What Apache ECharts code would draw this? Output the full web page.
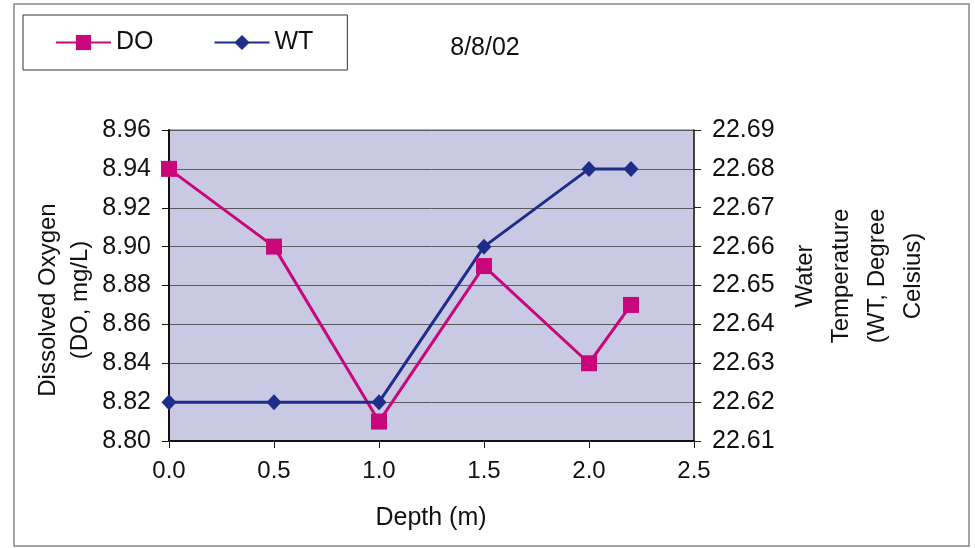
<!DOCTYPE html>
<html>
<head>
<meta charset="utf-8">
<script src="https://cdn.jsdelivr.net/npm/echarts@6/dist/echarts.min.js"></script>
<style>
  html, body { margin: 0; padding: 0; background: #ffffff; }
  #chart { width: 975px; height: 548px; }
</style>
</head>
<body>
<div id="chart"></div>
<script>
// Depth profile sampled on 8/8/02
const depth = [0, 0.5, 1.0, 1.5, 2.0, 2.2];
const doValues = [8.94, 8.90, 8.81, 8.89, 8.84, 8.87];
const wtValues = [22.62, 22.62, 22.62, 22.66, 22.68, 22.68];
const seriesNames = ['DO', 'WT'];
const chartTitle = '8/8/02';
const xName = 'Depth (m)';
const leftName = 'Dissolved Oxygen\n(DO, mg/L)';
const rightName = 'Water\nTemperature\n(WT, Degree\nCelsius)';

const FONT = 'Liberation Sans, Arial, sans-serif';
const DO_COLOR = '#c8077a';
const WT_COLOR = '#1f2d8a';

const chart = echarts.init(document.getElementById('chart'));

const pairs = (xs, ys) => xs.map((x, i) => [x, ys[i]]);

chart.setOption({
  animation: false,
  backgroundColor: '#ffffff',
  textStyle: { fontFamily: FONT },
  grid: {
    left: 169, right: 281, top: 130, bottom: 107,
    show: true,
    backgroundColor: '#c9c9e3',
    borderColor: '#666',
    borderWidth: 1
  },
  legend: {
    data: seriesNames,
    left: 23, top: 15,
    padding: [15, 34, 15, 32],
    itemGap: 60,
    itemWidth: 55,
    itemHeight: 19,
    borderColor: '#333',
    borderWidth: 1,
    backgroundColor: '#ffffff',
    textStyle: { fontSize: 25, color: '#111', fontFamily: FONT }
  },
  xAxis: {
    type: 'value',
    min: 0, max: 2.5, interval: 0.5,
    axisLine: { show: true, onZero: false, lineStyle: { color: '#111', width: 2 } },
    axisTick: { show: true, inside: false, length: 7, lineStyle: { color: '#111', width: 1 } },
    axisLabel: {
      margin: 18, fontSize: 24, color: '#111', fontFamily: FONT,
      formatter: v => v.toFixed(1)
    },
    splitLine: { show: false }
  },
  yAxis: [
    {
      type: 'value',
      min: 8.80, max: 8.96, interval: 0.02,
      axisLine: { show: true, lineStyle: { color: '#111', width: 2 } },
      axisTick: { show: true, inside: false, length: 7, lineStyle: { color: '#111', width: 1 } },
      axisLabel: {
        margin: 18, fontSize: 25, color: '#111', fontFamily: FONT,
        formatter: v => v.toFixed(2)
      },
      splitLine: { show: true, lineStyle: { color: '#5a5a5a', width: 1 } }
    },
    {
      type: 'value',
      position: 'right',
      min: 22.61, max: 22.69, interval: 0.01,
      axisLine: { show: true, lineStyle: { color: '#222', width: 1.5 } },
      axisTick: { show: true, inside: false, length: 7, lineStyle: { color: '#222', width: 1 } },
      axisLabel: {
        margin: 18, fontSize: 25, color: '#111', fontFamily: FONT,
        formatter: v => v.toFixed(2)
      },
      splitLine: { show: false }
    }
  ],
  series: [
    {
      name: seriesNames[0],
      type: 'line',
      yAxisIndex: 0,
      data: pairs(depth, doValues),
      symbol: 'rect',
      symbolSize: 16,
      color: DO_COLOR,
      lineStyle: { color: DO_COLOR, width: 3 },
      itemStyle: { color: DO_COLOR }
    },
    {
      name: seriesNames[1],
      type: 'line',
      yAxisIndex: 1,
      data: pairs(depth, wtValues),
      symbol: 'diamond',
      symbolSize: [15, 16],
      color: WT_COLOR,
      lineStyle: { color: WT_COLOR, width: 3 },
      itemStyle: { color: WT_COLOR }
    }
  ],
  graphic: [
    {
      type: 'rect',
      shape: { x: 14, y: 4, width: 955, height: 542 },
      style: { fill: 'none', stroke: '#888', lineWidth: 1.5 },
      silent: true, z: -10
    },
    {
      type: 'text',
      x: 485, y: 48,
      style: {
        text: chartTitle, fontSize: 25, fill: '#111', fontFamily: FONT,
        textAlign: 'center', textVerticalAlign: 'middle'
      }
    },
    {
      type: 'text',
      x: 431, y: 518,
      style: {
        text: xName, fontSize: 25, fill: '#111', fontFamily: FONT,
        textAlign: 'center', textVerticalAlign: 'middle'
      }
    },
    {
      type: 'text',
      x: 64, y: 300,
      rotation: Math.PI / 2,
      style: {
        text: leftName, fontSize: 24, lineHeight: 32, fill: '#111', fontFamily: FONT,
        textAlign: 'center', textVerticalAlign: 'middle'
      }
    },
    {
      type: 'text',
      x: 859, y: 276,
      rotation: Math.PI / 2,
      style: {
        text: rightName, fontSize: 24, lineHeight: 36, fill: '#111', fontFamily: FONT,
        textAlign: 'center', textVerticalAlign: 'middle'
      }
    }
  ]
});
</script>
</body>
</html>
